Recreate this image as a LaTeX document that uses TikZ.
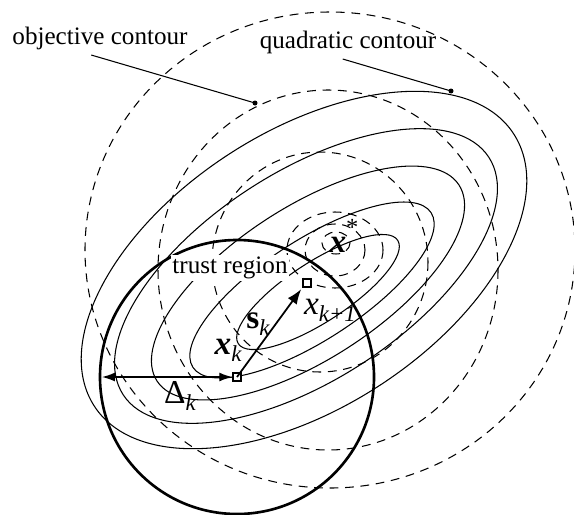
\documentclass[tikz,border=0pt]{standalone}
\usepackage{fontspec}
\setmainfont{Liberation Serif}
\usetikzlibrary{arrows.meta,positioning}
\newcommand{\lowidx}[1]{\raisebox{-0.45ex}{\fontsize{13}{15}\selectfont\itshape #1}}
\newcommand{\highidx}[1]{\raisebox{1.1ex}{\fontsize{14}{15}\selectfont #1}}
\tikzset{
  lbl/.style={font=\fontsize{14.3}{17}\selectfont, inner sep=0pt},
  mlbl/.style={font=\fontsize{19}{22}\selectfont, inner sep=0pt},
  quadc/.style={line width=0.6pt},
  objc/.style={line width=0.6pt, dash pattern=on 5pt off 3.8pt},
  trust/.style={line width=1.5pt},
  lead/.style={line width=0.6pt},
  ptbox/.style={draw, line width=0.8pt, fill=white, minimum size=4.6pt, inner sep=0pt},
  vec/.style={-{Latex[length=3mm,width=2.2mm]}, line width=1pt, shorten >=1pt},
  dlt/.style={{Latex[length=2.6mm,width=1.8mm]}-{Latex[length=2.6mm,width=1.8mm]}, line width=0.8pt},
}
\begin{document}
\begin{tikzpicture}[x=0.02cm,y=-0.02cm]
\useasboundingbox (0,0) rectangle (574,514);
% objective contours
\draw[objc] (330,250) ellipse[x radius=245,y radius=238];
\draw[objc] (328,270) ellipse[x radius=170,y radius=180];
\draw[objc] (320,262) ellipse[x radius=108,y radius=110];
\draw[objc] (335,250) ellipse[x radius=48,y radius=38];
\draw[objc] (335,250) ellipse[x radius=30,y radius=26];
\draw[objc] (336,243) ellipse[x radius=14,y radius=11];
% quadratic contours
\foreach \cx/\cy/\a/\b in {318/292/95/30,312/290/142/50,308/283/180/76,306/276/218/104,304/270/250/138}
  \draw[quadc, rotate around={33:(\cx,\cy)}] (\cx,\cy) ellipse[x radius=\a,y radius=\b];
% trust region
\node[ptbox] (xk) at (237,377) {};
\node[ptbox] (xk1) at (307,283) {};
\draw[trust] (xk.center) circle[radius=137];
\coordinate (redge) at (102,377);
\draw[dlt] (redge) -- (xk.west);
\draw[vec] (xk.center) -- (xk1.south west);
% labels
\node[lbl] (obj) at (100,38) {objective contour};
\node[lbl] (quad) at (348,42) {quadratic contour};
\node[lbl, fill=white, inner sep=1pt] (tr) at (230,268) {trust region};
\coordinate (objtip) at (255,103);
\coordinate (quadtip) at (451,91);
\draw[lead] ([xshift=-5pt,yshift=-3pt]obj.south) -- (objtip);
\draw[lead] ([xshift=-3pt,yshift=-3pt]quad.south) -- (quadtip);
\fill (objtip) circle[radius=2.5];
\fill (quadtip) circle[radius=2.5];
\node[mlbl] (xs) at (344,236) {\textbf{\textit{x}}\highidx{*}};
\node[mlbl] (xk1l) at (330,310) {\textit{x}\lowidx{k+1}};
\node[mlbl] (skl) at (258,324) {\textbf{s}\lowidx{k}};
\node[mlbl] (xkl) at (228,350) {\textbf{\textit{x}}\lowidx{k}};
\node[mlbl] (dl) at (180,396) {Δ\lowidx{k}};
\end{tikzpicture}
\end{document}
